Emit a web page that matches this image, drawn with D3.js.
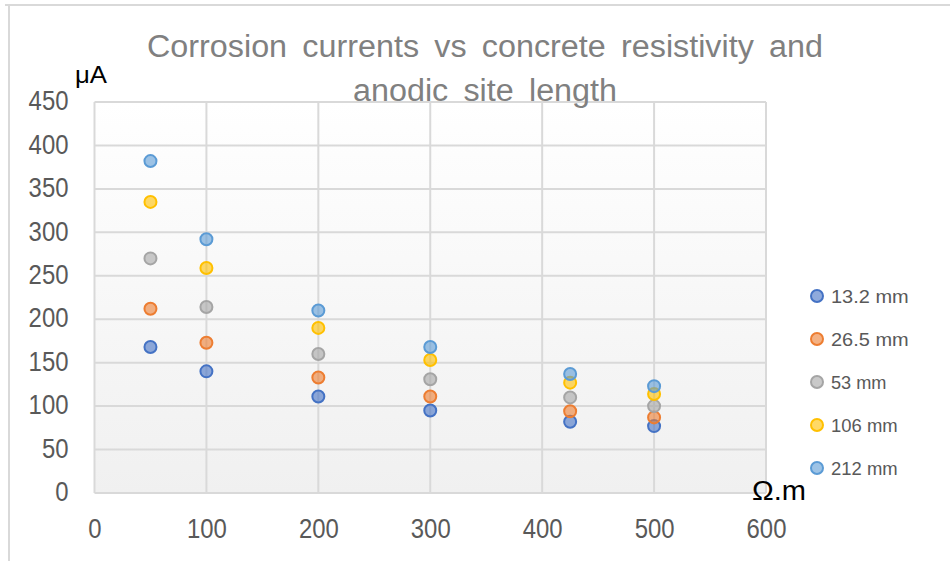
<!DOCTYPE html>
<html><head><meta charset="utf-8">
<script src="https://cdn.jsdelivr.net/npm/d3@7"></script>
<style>body{margin:0;background:#fff}svg{display:block}text{font-family:"Liberation Sans",sans-serif}</style>
</head><body><svg id="c" width="950" height="561"></svg>
<script>
const resistivity = [50, 100, 200, 300, 425, 500];
const seriesNames = ["13.2 mm", "26.5 mm", "53 mm", "106 mm", "212 mm"];
const s13_2 = [168, 140, 111, 95, 82, 77];
const s26_5 = [212, 173, 133, 111, 94, 87];
const s53 = [270, 214, 160, 131, 110, 100];
const s106 = [335, 259, 190, 153, 127, 114];
const s212 = [382, 292, 210, 168, 137, 123];
const seriesValues = [s13_2, s26_5, s53, s106, s212];
const xTicks = [0, 100, 200, 300, 400, 500, 600];
const yTicks = [0, 50, 100, 150, 200, 250, 300, 350, 400, 450];
const colors = ["#4472C4", "#ED7D31", "#A5A5A5", "#FFC000", "#5B9BD5"];

const svg = d3.select("#c");
const x = d3.scaleLinear().domain([0, 600]).range([94.5, 766]);
const y = d3.scaleLinear().domain([0, 450]).range([493, 102]);

// outer frame
svg.append("line").attr("x1",5).attr("x2",950).attr("y1",5).attr("y2",5).attr("stroke","#d9d9d9").attr("stroke-width",2);
svg.append("line").attr("x1",9).attr("x2",9).attr("y1",5).attr("y2",561).attr("stroke","#d9d9d9").attr("stroke-width",2);

const defs = svg.append("defs");
const g = defs.append("linearGradient").attr("id","bg").attr("x1",0).attr("y1",0).attr("x2",0).attr("y2",1);
g.append("stop").attr("offset","0%").attr("stop-color","#ffffff");
g.append("stop").attr("offset","100%").attr("stop-color","#f0f0f0");
svg.append("rect").attr("x",x(0)).attr("y",y(450)).attr("width",x(600)-x(0)).attr("height",y(0)-y(450)).attr("fill","url(#bg)");

// gridlines
svg.append("g").selectAll("line").data(yTicks).join("line")
  .attr("x1",x(0)).attr("x2",x(600)).attr("y1",d=>y(d)).attr("y2",d=>y(d))
  .attr("stroke","#d9d9d9").attr("stroke-width",2);
svg.append("g").selectAll("line").data(xTicks).join("line")
  .attr("y1",y(0)).attr("y2",y(450)).attr("x1",d=>x(d)).attr("x2",d=>x(d))
  .attr("stroke","#d9d9d9").attr("stroke-width",2);

function styleTicks(sel){
  sel.selectAll("text").attr("font-size",27.5).attr("fill","#595959")
    .attr("font-family","Liberation Sans, sans-serif")
    .attr("textLength",function(){return this.textContent.length*13.3;})
    .attr("lengthAdjust","spacingAndGlyphs");
}
const yAxis = svg.append("g").attr("transform",`translate(${x(0)},0)`)
  .call(d3.axisLeft(y).tickValues(yTicks).tickSize(0).tickPadding(26));
yAxis.select(".domain").remove();
styleTicks(yAxis);
yAxis.selectAll("text").attr("dy","0.28em");
const xAxis = svg.append("g").attr("transform",`translate(0,${y(0)})`)
  .call(d3.axisBottom(x).tickValues(xTicks).tickSize(0).tickPadding(25));
xAxis.select(".domain").remove();
styleTicks(xAxis);

// points
seriesValues.forEach((vals, i) => {
  svg.append("g").selectAll("circle").data(vals).join("circle")
    .attr("cx",(d,j)=>x(resistivity[j])).attr("cy",d=>y(d)).attr("r",6)
    .attr("fill",colors[i]).attr("fill-opacity",0.6)
    .attr("stroke",colors[i]).attr("stroke-width",2);
});

// title
svg.append("text").attr("x",485).attr("y",57).attr("text-anchor","middle")
  .attr("font-size",31).attr("fill","#808080").attr("word-spacing",6)
  .attr("textLength",676).attr("lengthAdjust","spacingAndGlyphs")
  .text("Corrosion currents vs concrete resistivity and");
svg.append("text").attr("x",485).attr("y",101).attr("text-anchor","middle")
  .attr("font-size",31).attr("fill","#808080").attr("word-spacing",6)
  .attr("textLength",264).attr("lengthAdjust","spacingAndGlyphs")
  .text("anodic site length");

// unit labels
svg.append("text").attr("x",75).attr("y",83).attr("font-size",23).attr("fill","#000")
  .attr("textLength",32).attr("lengthAdjust","spacingAndGlyphs").text("μA");
svg.append("text").attr("x",752).attr("y",500).attr("font-size",27).attr("fill","#000")
  .attr("textLength",54).attr("lengthAdjust","spacingAndGlyphs").text("Ω.m");

// legend
const lg = svg.append("g").selectAll("g").data(seriesNames).join("g")
  .attr("transform",(d,i)=>`translate(817,${296 + i*43})`);
lg.append("circle").attr("r",6).attr("fill",(d,i)=>colors[i]).attr("fill-opacity",0.6)
  .attr("stroke",(d,i)=>colors[i]).attr("stroke-width",2);
lg.append("text").attr("x",14).attr("y",7).attr("font-size",19).attr("fill","#595959")
  .attr("textLength",d=>d.length*11.1).attr("lengthAdjust","spacingAndGlyphs").text(d=>d);
</script></body></html>
